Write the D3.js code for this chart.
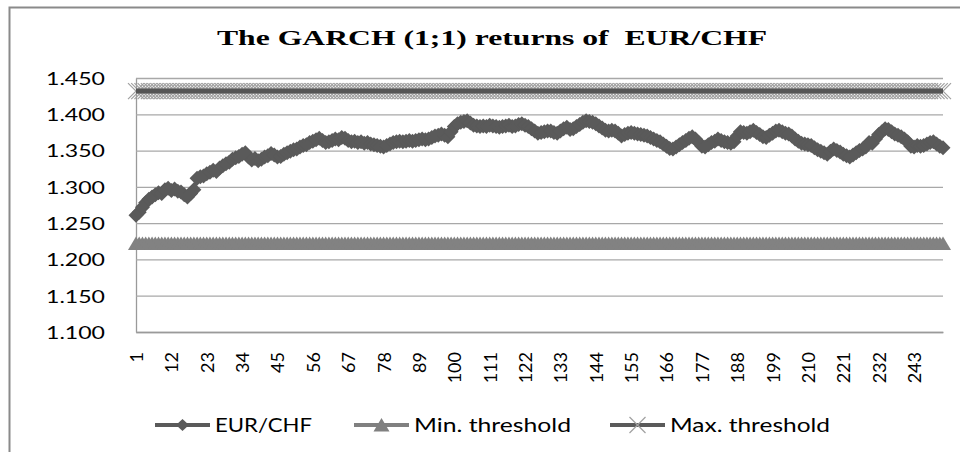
<!DOCTYPE html>
<html>
<head>
<meta charset="utf-8">
<script src="https://cdn.jsdelivr.net/npm/d3@7"></script>
<style>
  body { margin: 0; background: #fff; }
  text { font-family: Lato, "Liberation Sans", sans-serif; fill: #000; }
</style>
</head>
<body>
<div id="chart"></div>
<script>
// data
const seriesNames = ["EUR/CHF", "Min. threshold", "Max. threshold"];
const eurChf = [
  1.261, 1.265, 1.272, 1.278, 1.283, 1.286, 1.289, 1.292, 1.291, 1.296, 1.298, 1.295,
  1.297, 1.294, 1.293, 1.289, 1.286, 1.291, 1.296, 1.312, 1.314, 1.315, 1.318, 1.320,
  1.323, 1.321, 1.326, 1.329, 1.332, 1.334, 1.338, 1.340, 1.342, 1.345, 1.347, 1.341,
  1.337, 1.339, 1.336, 1.338, 1.341, 1.343, 1.346, 1.344, 1.341, 1.342, 1.345, 1.347,
  1.349, 1.351, 1.352, 1.355, 1.357, 1.358, 1.361, 1.363, 1.365, 1.367, 1.364, 1.361,
  1.362, 1.364, 1.366, 1.365, 1.368, 1.367, 1.364, 1.362, 1.363, 1.361, 1.362, 1.360,
  1.361, 1.359, 1.358, 1.357, 1.356, 1.355, 1.357, 1.359, 1.361, 1.362, 1.363, 1.362,
  1.363, 1.364, 1.363, 1.364, 1.365, 1.366, 1.365, 1.366, 1.368, 1.370, 1.371, 1.373,
  1.371, 1.369, 1.376, 1.383, 1.387, 1.389, 1.390, 1.391, 1.388, 1.385, 1.384, 1.383,
  1.384, 1.383, 1.385, 1.384, 1.383, 1.382, 1.383, 1.384, 1.385, 1.383, 1.384, 1.386,
  1.387, 1.385, 1.383, 1.380, 1.377, 1.374, 1.375, 1.376, 1.377, 1.377, 1.375, 1.374,
  1.377, 1.380, 1.382, 1.379, 1.380, 1.383, 1.386, 1.389, 1.391, 1.390, 1.389, 1.387,
  1.384, 1.381, 1.378, 1.377, 1.378, 1.377, 1.374, 1.370, 1.372, 1.374, 1.375, 1.374,
  1.373, 1.372, 1.371, 1.370, 1.368, 1.366, 1.364, 1.362, 1.359, 1.356, 1.353, 1.352,
  1.355, 1.358, 1.361, 1.364, 1.367, 1.369, 1.366, 1.361, 1.356, 1.355, 1.358, 1.361,
  1.363, 1.366, 1.364, 1.362, 1.361, 1.360, 1.362, 1.370, 1.376, 1.375, 1.374, 1.376,
  1.378, 1.375, 1.372, 1.369, 1.368, 1.371, 1.374, 1.377, 1.378, 1.376, 1.374, 1.373,
  1.370, 1.366, 1.363, 1.360, 1.359, 1.358, 1.357, 1.354, 1.351, 1.349, 1.347, 1.345,
  1.349, 1.352, 1.350, 1.348, 1.345, 1.343, 1.341, 1.344, 1.347, 1.350, 1.352, 1.355,
  1.361, 1.360, 1.366, 1.372, 1.376, 1.380, 1.379, 1.376, 1.373, 1.371, 1.369, 1.366,
  1.362, 1.356, 1.355, 1.357, 1.356, 1.357, 1.359, 1.361, 1.362, 1.359, 1.356, 1.354
];
const minThreshold = 1.222;
const maxThreshold = 1.432;
const categories = eurChf.map((d, i) => i + 1);
const xTickLabels = [1, 12, 23, 34, 45, 56, 67, 78, 89, 100, 111, 122, 133, 144, 155, 166, 177, 188, 199, 210, 221, 232, 243];
const yTicks = [1.100, 1.150, 1.200, 1.250, 1.300, 1.350, 1.400, 1.450];

const width = 960, height = 452;
const plot = { left: 136, right: 943, top: 78, bottom: 332 };

const svg = d3.select("#chart")
  .append("svg")
  .attr("width", width)
  .attr("height", height)
  .attr("viewBox", [0, 0, width, height]);

// outer frame
svg.append("rect")
  .attr("x", 9.5).attr("y", 7.5)
  .attr("width", 1000).attr("height", 500)
  .attr("fill", "none")
  .attr("stroke", "#8a8a8a")
  .attr("stroke-width", 2);

// title (keeps the double space)
svg.append("text")
  .attr("x", 492).attr("y", 45)
  .attr("text-anchor", "middle")
  .attr("textLength", 550)
  .attr("lengthAdjust", "spacingAndGlyphs")
  .style("white-space", "pre")
  .style("font-family", "'Liberation Serif', serif")
  .style("font-weight", "bold")
  .style("font-size", "22px")
  .text("The GARCH (1;1) returns of  EUR/CHF");

// scales
const x = d3.scalePoint()
  .domain(categories)
  .range([plot.left, plot.right]);

const y = d3.scaleLinear()
  .domain([1.1, 1.45])
  .range([plot.bottom, plot.top]);

// y axis + gridlines
svg.append("g")
  .attr("transform", `translate(${plot.left},0)`)
  .call(d3.axisLeft(y)
    .tickValues(yTicks)
    .tickFormat(d3.format(".3f"))
    .tickSize(-(plot.right - plot.left))
    .tickSizeOuter(0)
    .tickPadding(31))
  .call((g) => g.select(".domain").attr("stroke", "#9a9a9a").attr("stroke-width", 1.3))
  .call((g) => g.selectAll(".tick line").attr("stroke", "#a8a8a8").attr("stroke-width", 1.3))
  .call((g) => g.selectAll(".tick text")
    .attr("font-size", 17.5)
    .attr("textLength", 59)
    .attr("lengthAdjust", "spacingAndGlyphs")
    .attr("dy", "0.36em")
    .attr("fill", "#111"));

// x axis
svg.append("g")
  .attr("transform", `translate(0,${plot.bottom})`)
  .call(d3.axisBottom(x)
    .tickValues(xTickLabels)
    .tickSize(0)
    .tickSizeOuter(0))
  .call((g) => g.select(".domain").attr("stroke", "#9a9a9a").attr("stroke-width", 1.3))
  .call((g) => g.selectAll(".tick text")
    .attr("transform", "rotate(-90)")
    .attr("text-anchor", "end")
    .attr("x", -20)
    .attr("y", 0)
    .attr("dy", "0.36em")
    .attr("font-size", 18)
    .attr("fill", "#111"));

// marker shapes
const diamond = "M0,-7.5L7.5,0L0,7.5L-7.5,0Z";
const triangle = "M0,-7L8,6.5L-8,6.5Z";
const cross = "M-8,-8L8,8M-8,8L8,-8";
const legendDiamond = "M0,-6L6.5,0L0,6L-6.5,0Z";

const line = d3.line()
  .x((d, i) => x(categories[i]))
  .y((d) => y(d));

// EUR/CHF
svg.append("path")
  .datum(eurChf)
  .attr("d", line)
  .attr("fill", "none")
  .attr("stroke", "#5a5a5a")
  .attr("stroke-width", 3);

svg.append("g")
  .selectAll("path")
  .data(eurChf)
  .enter()
    .append("path")
    .attr("transform", (d, i) => `translate(${x(categories[i])},${y(d)})`)
    .attr("d", diamond)
    .attr("fill", "#5a5a5a");

// Min threshold
const minData = categories.map(() => minThreshold);
svg.append("path")
  .datum(minData)
  .attr("d", line)
  .attr("fill", "none")
  .attr("stroke", "#808080")
  .attr("stroke-width", 3);

svg.append("g")
  .selectAll("path")
  .data(minData)
  .enter()
    .append("path")
    .attr("transform", (d, i) => `translate(${x(categories[i])},${y(d)})`)
    .attr("d", triangle)
    .attr("fill", "#828282");

// Max threshold
const maxData = categories.map(() => maxThreshold);
svg.append("g")
  .selectAll("path")
  .data(maxData)
  .enter()
    .append("path")
    .attr("transform", (d, i) => `translate(${x(categories[i])},${y(d)})`)
    .attr("d", cross)
    .attr("fill", "none")
    .attr("stroke", "#a0a0a0")
    .attr("stroke-width", 1.2);

svg.append("path")
  .datum(maxData)
  .attr("d", line)
  .attr("fill", "none")
  .attr("stroke", "#555")
  .attr("stroke-width", 5);

// legend
const legendX = [155, 354, 610];
const legendTextLen = [97, 157, 160];
const legendColor = ["#5a5a5a", "#808080", "#5a5a5a"];
const legendMarker = [legendDiamond, triangle, cross];

const legend = svg.append("g").attr("transform", "translate(0,425)");
seriesNames.forEach((name, i) => {
  const g = legend.append("g").attr("transform", `translate(${legendX[i]},0)`);
  g.append("line")
    .attr("x1", 0).attr("x2", 55)
    .attr("stroke", legendColor[i])
    .attr("stroke-width", 4);
  g.append("path")
    .attr("transform", "translate(27.5,0)")
    .attr("d", legendMarker[i])
    .attr("fill", i === 2 ? "none" : legendColor[i])
    .attr("stroke", i === 2 ? "#a0a0a0" : "none")
    .attr("stroke-width", 1.2);
  g.append("text")
    .attr("x", 60).attr("y", 6.5)
    .attr("font-size", 18.5)
    .attr("textLength", legendTextLen[i])
    .attr("lengthAdjust", "spacingAndGlyphs")
    .attr("fill", "#111")
    .text(name);
});
</script>
</body>
</html>
